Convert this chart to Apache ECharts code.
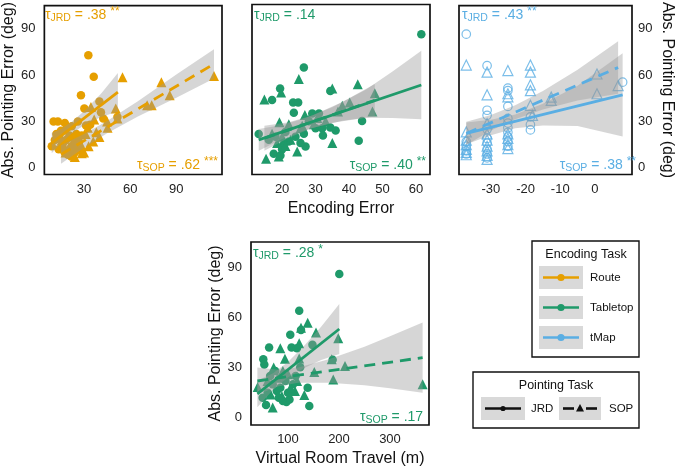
<!DOCTYPE html>
<html>
<head>
<meta charset="utf-8">
<script src="https://cdn.jsdelivr.net/npm/echarts@6/dist/echarts.min.js"></script>
<style>
  html, body { margin: 0; background: #fff; }
  #chart { width: 676px; height: 468px; }
</style>
</head>
<body>
<div id="chart"></div>
<script>
// colours of the encoding tasks
const ROUTE = '#E69F00', TABLE = '#1f9a6a', TMAP = '#5aaee3';
const FONT = '"Liberation Sans", Arial, sans-serif';

// ---- Route panel (x: encoding error) ----
const routeJrd = [[32.8,73],[36.3,59],[28,47],[40,43],[30.2,38.4],[41,36],[51.7,33],[42.5,32],[10.2,30],[13,30],
  [17.5,29],[26,30],[31.3,27.5],[22,27],[19,26],[15,24],[12,22],[20.5,21],[23,19],[18.4,18],[25,22],[9,14],[16,15],
  [13.5,12],[17.3,11.5],[19.5,8.5],[21.6,7.3],[24,10],[26.5,16],[28.5,21],[11,18],[14,19],[22,14],[27,12],[34,28]];
const routeSop = [[55,58.7],[80.3,55.5],[114.5,59.5],[85.7,47],[71,40.5],[74,40.5],[34.5,39.4],[50.6,38.5],[36.6,31.3],
  [51.7,32],[45.3,26],[32.4,26],[36,17],[28.5,9.4],[22,9.5],[31,22],[26.3,20],[15.6,18],[20,13],[18,10],[24,7],[28,15],
  [38,23],[45,30],[40,20],[25,12],[23,17],[30,10],[33,14]];
const routeJrdFit = [[9,16],[52,49]];
const routeSopFit = [[15,8.7],[114.5,67.3]];
const routeJrdBand = [[9,9.5,22.5],[15,16.1,25.1],[22,22.2,29.8],[30,27.6,36.6],[41,33,48],[52,36.5,61.5]];
const routeSopBand = [[15,2.7,14.7],[30,13,22],[45,22.4,30.4],[65,33.2,43.2],[90,45.4,60.4],[114.5,57.8,76.8]];

// ---- Tabletop panel ----
const tableJrd = [[61.6,86],[26.5,64.5],[19.4,51],[17,43.7],[23.3,42],[24.8,42],[34.4,49.5],[23.5,35.5],[29,35],[31,35],
  [43.9,30.2],[42.9,17.4],[13,21.8],[30,25.5],[32,25.5],[34.4,26],[32.2,20.8],[27,13.7],[20,12],[17.5,9],[19.5,8],
  [22,17],[24,20],[26.5,22],[18,20],[16,18],[21,23],[25.5,16],[28,30],[20.5,15],[36,24]];
const tableSop = [[25,57.2],[42.6,53.8],[14.7,44],[19.7,48.5],[35,51],[47.7,48],[40.2,42],[36.7,36.2],[47,36.2],[26.8,34],
  [19.2,29.4],[22,28],[25.5,25.5],[35,15.9],[24.5,10.5],[15.2,5.8],[19,7.3],[17,22],[20,20],[22.5,18],[28,31],[30.5,32],
  [33,30],[38,40],[21,14],[26,27],[18.5,16],[29.5,28]];
const tableJrdFit = [[13,18],[61.6,53.3]];
const tableSopFit = [[14.7,19],[47.7,43.5]];
const tableJrdBand = [[13,11,25],[20,18.6,27.6],[27,24.4,32],[35,29,39],[45,32.2,50.2],[53,32,62],[61.6,31.3,75.3]];
const tableSopBand = [[14.7,11,27],[22,19.4,29.4],[29,25.6,33.6],[38,30.3,42.3],[47.7,33,54]];

// ---- tMap panel ----
const tmapJrd = [[-37.1,86.6],[-31.1,66.2],[-25.1,51.6],[-25.1,50],[-25.1,39.8],[-31.1,37.3],[-31.1,34],[-25.1,32],
  [-18.6,33],[-18.6,28],[-18.6,24.6],[8,55.5],[-37.1,17],[-37.1,14],[-37.1,11],[-37.1,9],[-31.1,25],[-31.1,19],
  [-31.1,16],[-31.1,12],[-31.1,9],[-31.1,6.5],[-25.1,26],[-25.1,23],[-25.1,20],[-25.1,17],[-25.1,14],[-25.1,29]];
const tmapSop = [[-37.1,66.6],[-31.1,62],[-25.1,63],[-18.6,66.6],[-18.6,62],[-31.1,47.3],[-25.1,48],[-25.1,46],
  [-18.6,53.8],[-18.6,50],[-12.6,45.8],[-12.6,43.7],[-18.6,40.5],[-18,34],[0.6,60.8],[0.6,48],[6.7,53.3],[-37.1,23.3],
  [-31.1,28.7],[-37.1,18],[-37.1,15],[-37.1,12],[-37.1,10],[-37.1,8.5],[-31.1,22],[-31.1,18],[-31.1,14],[-31.1,11],
  [-31.1,8],[-31.1,5.5],[-25.1,22],[-25.1,19],[-25.1,15],[-25.1,12.5]];
const tmapJrdFit = [[-37.1,22.3],[8,47.3]];
const tmapSopFit = [[-37.1,22.3],[6.7,65]];
const tmapJrdBand = [[-37.1,15.3,29.3],[-30,21.2,31.2],[-23,25.6,34.6],[-15,27.5,41.5],[-5,27.1,53.1],[8,20.3,74.3]];
const tmapSopBand = [[-37.1,14.8,29.8],[-30,24.2,34.2],[-23,31.5,40.5],[-15,37.8,49.8],[-5,43.6,63.6],[6.7,48,82]];

// ---- Tabletop vs virtual room travel ----
const roomJrd = [[200.6,86],[122,64],[125.5,52.5],[104.5,49.6],[148,43.6],[63,42],[107,42],[117.6,41.6],[51.6,35],
  [187.6,34.7],[53.6,31.8],[124,30.2],[89.6,24.9],[138.6,18],[50.4,12],[57,7.7],[90,10],[97,9.5],[103,11],[141.8,7.1],
  [70,20],[78,16],[85,18],[95,22],[110,20],[75,28],[65,25],[115,25],[60,15],[82,12],[100,15]];
const roomSop = [[138.6,56.8],[125.5,53.9],[155,51],[198.6,47.6],[85,41.6],[122,44.6],[94,35.3],[122,35.5],[188.8,22.9],
  [151.6,27.4],[40.6,18.4],[70,6.1],[113.7,16],[132,13.6],[185.7,35],[211.8,31],[364,20],[60,22],[72,30],[80,24],
  [90,28],[100,26],[105,18],[118,22],[66,14],[88,13]];
const roomJrdFit = [[40,14.3],[200.6,53.1]];
const roomSopFit = [[40,22],[364,36]];
const roomJrdBand = [[40,6.3,22.3],[70,16.5,26.5],[100,24.3,33.3],[130,29.5,42.5],[165,34.5,54.5],[200.6,38.1,68.1]];
const roomSopBand = [[40,14,30],[80,18.7,28.7],[120,21,30],[180,21,35],[250,19.5,42.5],[300,17.7,48.7],[364,15,57]];

// tick labels
const yTicks = [0, 30, 60, 90];
const xTicks = [[30, 60, 90], [20, 30, 40, 50, 60], [-30, -20, -10, 0], [100, 200, 300]];
const xRanges = [[4.2, 119.7], [11, 64.2], [-39.2, 10.7], [27.5, 376.5]];

const chart = echarts.init(document.getElementById('chart'));

const grids = [
  { left: 43, top: 4.5, width: 179, height: 170 },
  { left: 252, top: 4.5, width: 178, height: 170 },
  { left: 459, top: 4.5, width: 179.5, height: 170 },
  { left: 251, top: 242, width: 178, height: 185 }
].map(g => Object.assign(g, { show: true, borderColor: '#111', borderWidth: 1.7, backgroundColor: '#fff' }));

const labelStyle = { fontFamily: FONT, fontSize: 13, color: '#222' };
const nameStyle = { fontFamily: FONT, fontSize: 16, color: '#111' };

const xAxis = xRanges.map((r, i) => ({
  type: 'value', gridIndex: i, min: r[0], max: r[1],
  axisLine: { show: false }, axisTick: { show: false }, splitLine: { show: false },
  axisLabel: Object.assign({ customValues: xTicks[i], margin: 8 }, labelStyle)
}));
xAxis[1].name = 'Encoding Error';
xAxis[3].name = 'Virtual Room Travel (m)';
[1, 3].forEach(i => Object.assign(xAxis[i], { nameLocation: 'middle', nameGap: 26, nameTextStyle: nameStyle }));

const yAxis = [0, 1, 2, 3].map(i => ({
  type: 'value', gridIndex: i, min: -4.3, max: 105.1,
  axisLine: { show: false }, axisTick: { show: false }, splitLine: { show: false },
  axisLabel: Object.assign({ show: i !== 1, customValues: yTicks, margin: 9 }, labelStyle)
}));
yAxis[2].position = 'right';
yAxis[2].axisLabel.margin = 6;
[0, 2, 3].forEach(i => Object.assign(yAxis[i], {
  name: 'Abs. Pointing Error (deg)', nameLocation: 'middle', nameGap: 27, nameTextStyle: nameStyle
}));
yAxis[0].nameGap = 25;
yAxis[2].nameRotate = -90;

function points(data, gi, color, shape, hollow) {
  return {
    type: 'scatter', xAxisIndex: gi, yAxisIndex: gi, data: data, z: 2, silent: true,
    symbol: shape, symbolSize: shape === 'triangle' ? 10 : 8.5,
    itemStyle: hollow ? { color: 'rgba(0,0,0,0)', borderColor: color, borderWidth: 1.2 } : { color: color, opacity: 1 }
  };
}

function band(b, gi) {
  return {
    type: 'custom', xAxisIndex: gi, yAxisIndex: gi, z: 3, silent: true,
    data: [[b[0][0], b[0][1]]],
    renderItem: function (params, api) {
      const up = b.map(d => api.coord([d[0], d[2]]));
      const lo = b.slice().reverse().map(d => api.coord([d[0], d[1]]));
      return { type: 'polygon', shape: { points: up.concat(lo) }, style: { fill: 'rgba(153,153,153,0.4)' } };
    }
  };
}

function fit(d, gi, color, dashed) {
  return {
    type: 'line', xAxisIndex: gi, yAxisIndex: gi, data: d, z: 4, silent: true,
    showSymbol: false, lineStyle: { color: color, width: 2.8, type: dashed ? [11, 7] : 'solid' }
  };
}

const series = [
  points(routeJrd, 0, ROUTE, 'circle'), points(routeSop, 0, ROUTE, 'triangle'),
  band(routeJrdBand, 0), band(routeSopBand, 0),
  fit(routeJrdFit, 0, ROUTE, false), fit(routeSopFit, 0, ROUTE, true),

  points(tableJrd, 1, TABLE, 'circle'), points(tableSop, 1, TABLE, 'triangle'),
  band(tableJrdBand, 1), band(tableSopBand, 1),
  fit(tableSopFit, 1, TABLE, true), fit(tableJrdFit, 1, TABLE, false),

  points(tmapJrd, 2, TMAP, 'circle', true), points(tmapSop, 2, TMAP, 'triangle', true),
  band(tmapJrdBand, 2), band(tmapSopBand, 2),
  fit(tmapJrdFit, 2, TMAP, false), fit(tmapSopFit, 2, TMAP, true),

  points(roomJrd, 3, TABLE, 'circle'), points(roomSop, 3, TABLE, 'triangle'),
  band(roomJrdBand, 3), band(roomSopBand, 3),
  fit(roomJrdFit, 3, TABLE, false), fit(roomSopFit, 3, TABLE, true)
];

// tau annotations
function tau(sub, val, stars, color, pos) {
  const rich = {
    t: { fontFamily: FONT, fontSize: 14, fill: color, lineHeight: 18 },
    s: { fontFamily: FONT, fontSize: 10.5, fill: color, verticalAlign: 'bottom', lineHeight: 12 },
    p: { fontFamily: FONT, fontSize: 12, fill: color, verticalAlign: 'top', lineHeight: 14 }
  };
  return Object.assign({ type: 'text', z: 10, style: { text: '{t|τ}{s|' + sub + '}{t| = ' + val + ' }{p|' + stars + '}', rich: rich } }, pos);
}

const graphic = [
  tau('JRD', '.38', '**', ROUTE, { left: 45, top: 6 }),
  tau('SOP', '.62', '***', ROUTE, { right: 676 - 218, top: 156 }),
  tau('JRD', '.14', '', TABLE, { left: 254, top: 6 }),
  tau('SOP', '.40', '**', TABLE, { right: 676 - 426, top: 156 }),
  tau('JRD', '.43', '**', TMAP, { left: 462, top: 6 }),
  tau('SOP', '.38', '**', TMAP, { right: 676 - 636, top: 156 }),
  tau('JRD', '.28', '*', TABLE, { left: 253, top: 244 }),
  tau('SOP', '.17', '', TABLE, { right: 676 - 427, top: 408 })
];

// legend: encoding task
const txt = (x, y, s, size, align) => ({ type: 'text', x: x, y: y, z: 10,
  style: { text: s, fontFamily: FONT, fontSize: size, fill: '#111', align: align || 'left', verticalAlign: 'middle' } });
graphic.push({ type: 'rect', shape: { x: 532, y: 241, width: 107, height: 116 }, style: { fill: '#fff', stroke: '#111', lineWidth: 1.4 } });
graphic.push(txt(586, 255, 'Encoding Task', 12.5, 'center'));
[['Route', ROUTE], ['Tabletop', TABLE], ['tMap', TMAP]].forEach((e, i) => {
  const y = 266 + i * 30;
  graphic.push({ type: 'rect', shape: { x: 539, y: y, width: 44, height: 23 }, style: { fill: '#d9d9d9' } });
  graphic.push({ type: 'line', shape: { x1: 543, y1: y + 11.5, x2: 579, y2: y + 11.5 }, style: { stroke: e[1], lineWidth: 2.6 } });
  graphic.push({ type: 'circle', shape: { cx: 561, cy: y + 11.5, r: 3.6 }, style: { fill: e[1] } });
  graphic.push(txt(590, y + 12, e[0], 11.5));
});

// legend: pointing task
graphic.push({ type: 'rect', shape: { x: 473, y: 372, width: 166, height: 56 }, style: { fill: '#fff', stroke: '#111', lineWidth: 1.4 } });
graphic.push(txt(556, 386, 'Pointing Task', 12.5, 'center'));
graphic.push({ type: 'rect', shape: { x: 481, y: 397, width: 44, height: 23 }, style: { fill: '#d9d9d9' } });
graphic.push({ type: 'line', shape: { x1: 485, y1: 408.5, x2: 521, y2: 408.5 }, style: { stroke: '#111', lineWidth: 2.6 } });
graphic.push({ type: 'circle', shape: { cx: 503, cy: 408.5, r: 2.6 }, style: { fill: '#111' } });
graphic.push(txt(531, 409, 'JRD', 11.5));
graphic.push({ type: 'rect', shape: { x: 559, y: 397, width: 42, height: 23 }, style: { fill: '#d9d9d9' } });
graphic.push({ type: 'line', shape: { x1: 563, y1: 408.5, x2: 574, y2: 408.5 }, style: { stroke: '#111', lineWidth: 2.6 } });
graphic.push({ type: 'line', shape: { x1: 586, y1: 408.5, x2: 597, y2: 408.5 }, style: { stroke: '#111', lineWidth: 2.6 } });
graphic.push({ type: 'polygon', shape: { points: [[580, 404], [576, 411.5], [584, 411.5]] }, style: { fill: '#111' } });
graphic.push(txt(609, 409, 'SOP', 11.5));

chart.setOption({
  animation: false,
  backgroundColor: '#fff',
  grid: grids,
  xAxis: xAxis,
  yAxis: yAxis,
  series: series,
  graphic: graphic
});
</script>
</body>
</html>
